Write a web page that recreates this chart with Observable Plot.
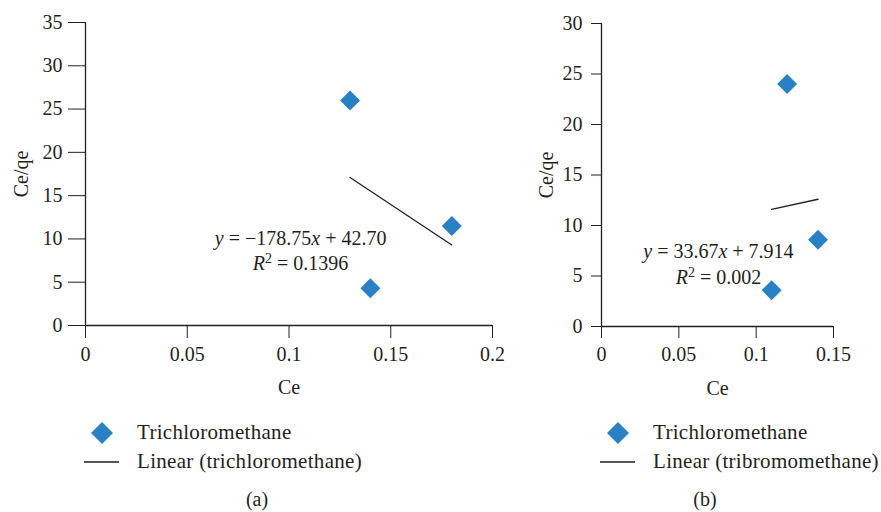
<!DOCTYPE html>
<html><head><meta charset="utf-8">
<script src="https://cdn.jsdelivr.net/npm/d3@7"></script>
<script src="https://cdn.jsdelivr.net/npm/@observablehq/plot@0.6"></script>
<style>
body{margin:0;background:#fff;}
#wrap{position:relative;width:881px;height:512px;font-family:"Liberation Serif","Times New Roman",serif;color:#231f20;overflow:hidden;}
.leg{position:absolute;font-size:21px;line-height:21px;letter-spacing:0.3px;white-space:nowrap;}
.cap{position:absolute;font-size:20px;transform:translateX(-50%);}
</style>
</head><body>
<div id="wrap"></div>
<script>
// Panel (a)
const ceA = [0.13, 0.14, 0.18];
const ceqeA = [26, 4.3, 11.5];
const trendCeA = [0.13, 0.18];
const trendCeqeA = [17.1, 9.3];
const xTicksA = [0, 0.05, 0.1, 0.15, 0.2];
const yTicksA = [0, 5, 10, 15, 20, 25, 30, 35];
const eqA = [["y", " = −178.75", "x", " + 42.70"], ["R", "2", " = 0.1396"]];
// Panel (b)
const ceB = [0.11, 0.12, 0.14];
const ceqeB = [3.6, 24, 8.6];
const trendCeB = [0.11, 0.14];
const trendCeqeB = [11.6, 12.6];
const xTicksB = [0, 0.05, 0.1, 0.15];
const yTicksB = [0, 5, 10, 15, 20, 25, 30];
const eqB = [["y", " = 33.67", "x", " + 7.914"], ["R", "2", " = 0.002"]];
// Legend / captions
const legendA = ["Trichloromethane", "Linear (trichloromethane)"];
const legendB = ["Trichloromethane", "Linear (tribromomethane)"];
const captions = ["(a)", "(b)"];

const INK = "#231f20", BLUE = "#2a80c4", FONT = '"Liberation Serif","Times New Roman",serif';

function panel(o) {
  const pts = o.xs.map((x, i) => ({x, y: o.ys[i]}));
  const tr = o.tx.map((x, i) => ({x, y: o.ty[i]}));
  const ann = o.eq.map((parts, i) => ({x: o.ex, y: o.ey[i], t: parts.join("")}));
  const svg = Plot.plot({
    width: o.width, height: 400,
    marginLeft: o.ml, marginRight: o.mr, marginTop: o.mt, marginBottom: o.mb,
    style: {fontFamily: FONT, fontSize: "20px", color: INK, background: "transparent", overflow: "visible"},
    x: {domain: [0, o.xmax], ticks: o.xticks, tickFormat: d => String(d), tickSize: o.xts, tickPadding: 8,
        label: "Ce", labelAnchor: "center", labelOffset: 68, labelArrow: "none"},
    y: {domain: [0, o.ymax], ticks: o.yticks, tickFormat: d => String(d), tickSize: o.yts, tickPadding: o.ytp,
        label: "Ce/qe", labelAnchor: "center", labelOffset: o.ylo, labelArrow: "none"},
    marks: [
      Plot.ruleY([0], {stroke: INK, strokeWidth: 1.3}),
      Plot.ruleX([0], {stroke: INK, strokeWidth: 1.3}),
      Plot.line(tr, {x: "x", y: "y", stroke: INK, strokeWidth: 1.3}),
      Plot.dot(pts, {x: "x", y: "y", symbol: "diamond2", r: 9, fill: BLUE, stroke: "none"}),
      Plot.text(ann, {x: "x", y: "y", text: "t", fontSize: 20, fill: INK, className: "eqn"})
    ]
  });
  // rich text: italic variables, superscript 2
  const texts = svg.querySelectorAll("g.eqn text");
  texts.forEach((el, i) => {
    const parts = o.eq[i];
    while (el.firstChild) el.removeChild(el.firstChild);
    parts.forEach(p => {
      const ts = document.createElementNS("http://www.w3.org/2000/svg", "tspan");
      ts.textContent = p;
      if (p === "y" || p === "x" || p === "R") ts.setAttribute("font-style", "italic");
      if (p === "2") { ts.setAttribute("font-size", "14"); ts.setAttribute("baseline-shift", "super"); }
      el.appendChild(ts);
    });
  });
  svg.style.position = "absolute";
  svg.style.left = o.left + "px";
  svg.style.top = "0px";
  return svg;
}

const wrap = document.getElementById("wrap");
wrap.appendChild(panel({left: 0, width: 520, ml: 85, mr: 28, mt: 22, mb: 75, xmax: 0.2, ymax: 35,
  xticks: xTicksA, yticks: yTicksA, xts: 13, yts: 17, ytp: 6, ylo: 72,
  xs: ceA, ys: ceqeA, tx: trendCeA, ty: trendCeqeA, eq: eqA, ex: 0.1057, ey: [10.0, 7.2]}));
wrap.appendChild(panel({left: 520, width: 361, ml: 81, mr: 48, mt: 23, mb: 74, xmax: 0.15, ymax: 30,
  xticks: xTicksB, yticks: yTicksB, xts: 12, yts: 10, ytp: 9, ylo: 63,
  xs: ceB, ys: ceqeB, tx: trendCeB, ty: trendCeqeB, eq: eqB, ex: 0.0756, ey: [7.4, 4.8]}));

function legend(left, textLeft, labels, cap, capX) {
  const d = document.createElement("div");
  d.innerHTML =
    `<svg style="position:absolute;left:${left + 7}px;top:422px" width="22" height="22"><polygon points="11,0 22,11 11,22 0,11" fill="${BLUE}"/></svg>` +
    `<div class="leg" style="left:${textLeft}px;top:422px">${labels[0]}</div>` +
    `<svg style="position:absolute;left:${left}px;top:455px" width="36" height="14"><line x1="0" x2="35" y1="7" y2="7" stroke="${INK}" stroke-width="1.3"/></svg>` +
    `<div class="leg" style="left:${textLeft}px;top:451px">${labels[1]}</div>` +
    `<div class="cap" style="left:${capX}px;top:488px">${cap}</div>`;
  wrap.appendChild(d);
}
legend(84, 137, legendA, captions[0], 257);
legend(600, 653, legendB, captions[1], 705);
</script>
</body></html>
